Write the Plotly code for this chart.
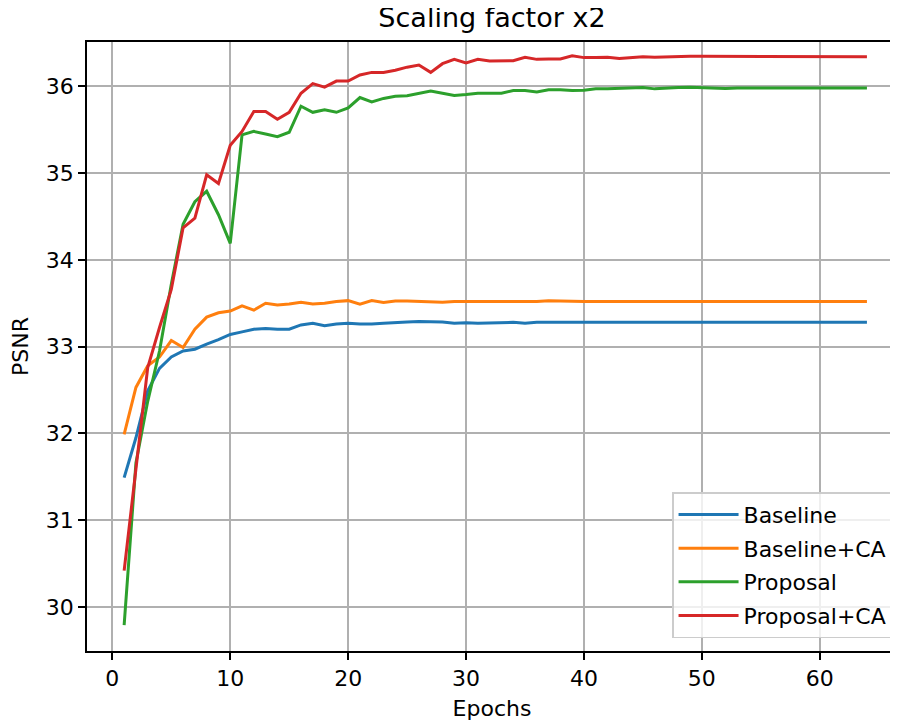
import plotly.graph_objects as go

epochs = list(range(1, 65))

baseline = [31.49, 31.95, 32.49, 32.75, 32.88, 32.95, 32.97, 33.03, 33.08, 33.14,
            33.17, 33.20, 33.21, 33.20, 33.20, 33.25, 33.27, 33.24, 33.26, 33.27,
            33.26, 33.26, 33.27, 33.28, 33.285, 33.29, 33.29, 33.285, 33.27, 33.275,
            33.27, 33.275, 33.275, 33.28, 33.27, 33.28, 33.28, 33.28, 33.28, 33.28,
            33.28, 33.275, 33.28, 33.28, 33.28, 33.28, 33.28, 33.28, 33.28, 33.282,
            33.28, 33.28, 33.28, 33.28, 33.28, 33.28, 33.28, 33.28, 33.28, 33.28,
            33.28, 33.28, 33.28, 33.28]

baseline_ca = [31.99, 32.53, 32.78, 32.88, 33.07, 32.99, 33.20, 33.34, 33.39, 33.41,
               33.47, 33.42, 33.50, 33.48, 33.49, 33.51, 33.49, 33.50, 33.52, 33.53,
               33.49, 33.53, 33.51, 33.525, 33.525, 33.52, 33.515, 33.51, 33.52, 33.52,
               33.52, 33.52, 33.52, 33.52, 33.52, 33.52, 33.53, 33.525, 33.52, 33.52,
               33.52, 33.52, 33.52, 33.52, 33.52, 33.52, 33.52, 33.52, 33.52, 33.52,
               33.52, 33.52, 33.52, 33.52, 33.52, 33.52, 33.52, 33.52, 33.52, 33.52,
               33.52, 33.52, 33.52, 33.52]

proposal = [29.79, 31.66, 32.37, 32.95, 33.72, 34.41, 34.67, 34.79, 34.52, 34.19,
            35.44, 35.48, 35.45, 35.42, 35.47, 35.77, 35.70, 35.73, 35.70, 35.75,
            35.87, 35.82, 35.86, 35.885, 35.89, 35.92, 35.945, 35.92, 35.895, 35.905,
            35.92, 35.92, 35.92, 35.95, 35.95, 35.935, 35.96, 35.96, 35.95, 35.955,
            35.97, 35.97, 35.975, 35.98, 35.985, 35.97, 35.98, 35.985, 35.99, 35.985,
            35.98, 35.975, 35.98, 35.98, 35.98, 35.98, 35.985, 35.985, 35.98, 35.98,
            35.98, 35.98, 35.98, 35.98]

proposal_ca = [30.42, 31.59, 32.76, 33.22, 33.66, 34.37, 34.48, 34.98, 34.88, 35.32,
               35.48, 35.71, 35.71, 35.62, 35.70, 35.92, 36.03, 35.99, 36.06, 36.06,
               36.13, 36.16, 36.16, 36.185, 36.22, 36.245, 36.16, 36.26, 36.31, 36.27,
               36.31, 36.29, 36.29, 36.295, 36.335, 36.31, 36.315, 36.315, 36.35, 36.33,
               36.33, 36.335, 36.32, 36.33, 36.34, 36.335, 36.34, 36.34, 36.345, 36.345,
               36.345, 36.345, 36.345, 36.34, 36.345, 36.34, 36.34, 36.345, 36.345, 36.345,
               36.34, 36.34, 36.34, 36.34]

series_names = ["Baseline", "Baseline+CA", "Proposal", "Proposal+CA"]
series_values = [baseline, baseline_ca, proposal, proposal_ca]
colors = ["#1f77b4", "#ff7f0e", "#2ca02c", "#d62728"]

x_ticks = [0, 10, 20, 30, 40, 50, 60]
y_ticks = [30, 31, 32, 33, 34, 35, 36]

FONT = "DejaVu Sans"

fig = go.Figure()
for i, (name, vals, col) in enumerate(zip(series_names, series_values, colors)):
    fig.add_trace(go.Scatter(x=epochs, y=vals, mode="lines", name=name,
                             legendgroup=f"g{i}",
                             line=dict(color=col, width=3)))

axis_common = dict(
    showline=True, linecolor="black", linewidth=1.6, mirror=True,
    ticks="outside", ticklen=7, tickwidth=1.6, tickcolor="black",
    showgrid=True, gridcolor="#b0b0b0", gridwidth=1.6,
    zeroline=False, automargin=False,
    tickfont=dict(family=FONT, size=22, color="black"),
)

# page body adds an 8px margin, so the figure is sized/offset to compensate
fig.update_layout(
    width=890, height=713,
    margin=dict(l=79, r=1, t=34, b=70),
    paper_bgcolor="white", plot_bgcolor="white",
    font=dict(family=FONT, size=22, color="black"),
    title=dict(text="Scaling factor x2", x=0.5438, xanchor="center",
               y=0.986, yanchor="middle", font=dict(family=FONT, size=27, color="black")),
    xaxis=dict(range=[-2.15, 66.55], tickvals=x_ticks,
               title=dict(text="Epochs", font=dict(family=FONT, size=22), standoff=11),
               **axis_common),
    yaxis=dict(range=[29.493, 36.51], tickvals=y_ticks,
               title=dict(text="PSNR", font=dict(family=FONT, size=22), standoff=21),
               **axis_common),
    legend=dict(x=0.995, y=0.021, xanchor="right", yanchor="bottom",
                bgcolor="rgba(255,255,255,0.8)", bordercolor="#cccccc", borderwidth=1.6,
                font=dict(family=FONT, size=22, color="black"),
                itemwidth=60, tracegroupgap=2),
    showlegend=True,
)

fig.write_html("out.html")
